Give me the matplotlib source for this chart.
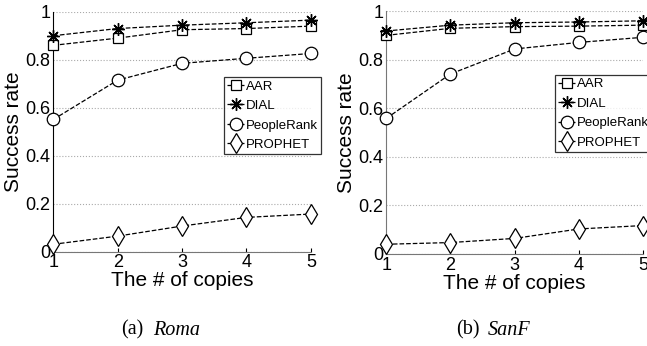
import numpy as np
import matplotlib
matplotlib.use('Agg')
import matplotlib.pyplot as plt

copies = [1, 2, 3, 4, 5]
names = ['AAR', 'DIAL', 'PeopleRank', 'PROPHET']

roma_aar = [0.86, 0.89, 0.925, 0.93, 0.94]
roma_dial = [0.90, 0.93, 0.944, 0.954, 0.965]
roma_people = [0.551, 0.715, 0.785, 0.806, 0.826]
roma_prophet = [0.031, 0.065, 0.107, 0.143, 0.157]

sanf_aar = [0.90, 0.929, 0.936, 0.938, 0.942]
sanf_dial = [0.918, 0.942, 0.952, 0.955, 0.96]
sanf_people = [0.558, 0.741, 0.844, 0.871, 0.892]
sanf_prophet = [0.04, 0.047, 0.064, 0.103, 0.117]

yticks = [0, 0.2, 0.4, 0.6, 0.8, 1]
yticklabels = ['0', '0.2', '0.4', '0.6', '0.8', '1']

markers = ['s', (8, 2, 0), 'o', 'd']
msizes = [7, 9, 9, 10]
mews = [0.9, 1.0, 0.9, 0.9]

sans = ['Liberation Sans', 'DejaVu Sans']

fig = plt.figure(figsize=(6.47, 3.46), dpi=100)

def panel(ax, series, tag, name, legpos, capx):
    for vals, lab, m, ms, mw in zip(series, names, markers, msizes, mews):
        ax.plot(copies, vals, linestyle='--', color='black', lw=0.9,
                marker=m, markersize=ms, markerfacecolor='white',
                markeredgecolor='black', markeredgewidth=mw, label=lab,
                clip_on=False, zorder=3)
    ax.set_xlim(1, 5)
    ax.set_ylim(0, 1)
    ax.set_xticks(copies)
    ax.set_yticks(yticks)
    ax.set_yticklabels(yticklabels)
    ax.yaxis.grid(True, linestyle=':', color='#aaaaaa', lw=0.8)
    ax.spines['top'].set_visible(False)
    ax.spines['right'].set_visible(False)
    ax.spines['bottom'].set_color('#777777')
    ax.tick_params(axis='both', direction='in', length=3, labelsize=13, pad=2)
    ax.tick_params(axis='y', length=0)
    for t in ax.get_xticklabels() + ax.get_yticklabels():
        t.set_family(sans)
    ax.set_xlabel('The # of copies', fontsize=15, family=sans, labelpad=0)
    ax.set_ylabel('Success rate', fontsize=15, family=sans, labelpad=2)
    leg = ax.legend(loc='upper left', bbox_to_anchor=legpos, frameon=True,
                    fancybox=False, edgecolor='black', handlelength=1.3,
                    handletextpad=0.1, borderpad=0.25, labelspacing=0.55,
                    borderaxespad=0, prop={'family': sans, 'size': 9.5},
                    markerscale=1.0)
    leg.get_frame().set_linewidth(0.9)
    leg.set_zorder(5)
    fig.text(capx[0], 0.046, '(' + tag + ')', ha='right', va='center',
             fontsize=14.5, family='Liberation Serif')
    fig.text(capx[1], 0.046, name, ha='left', va='center',
             fontsize=14.5, family='Liberation Serif', style='italic')

ax1 = fig.add_axes([0.0824, 0.2725, 0.398, 0.6936])
panel(ax1, [roma_aar, roma_dial, roma_people, roma_prophet], 'a', 'Roma',
      (0.662, 0.728), (0.221, 0.236))
ax2 = fig.add_axes([0.597, 0.266, 0.397, 0.702])
panel(ax2, [sanf_aar, sanf_dial, sanf_people, sanf_prophet], 'b', 'SanF',
      (0.657, 0.737), (0.742, 0.754))
ax2.spines['left'].set_color('#777777')

fig.savefig('out.png', dpi=100)
